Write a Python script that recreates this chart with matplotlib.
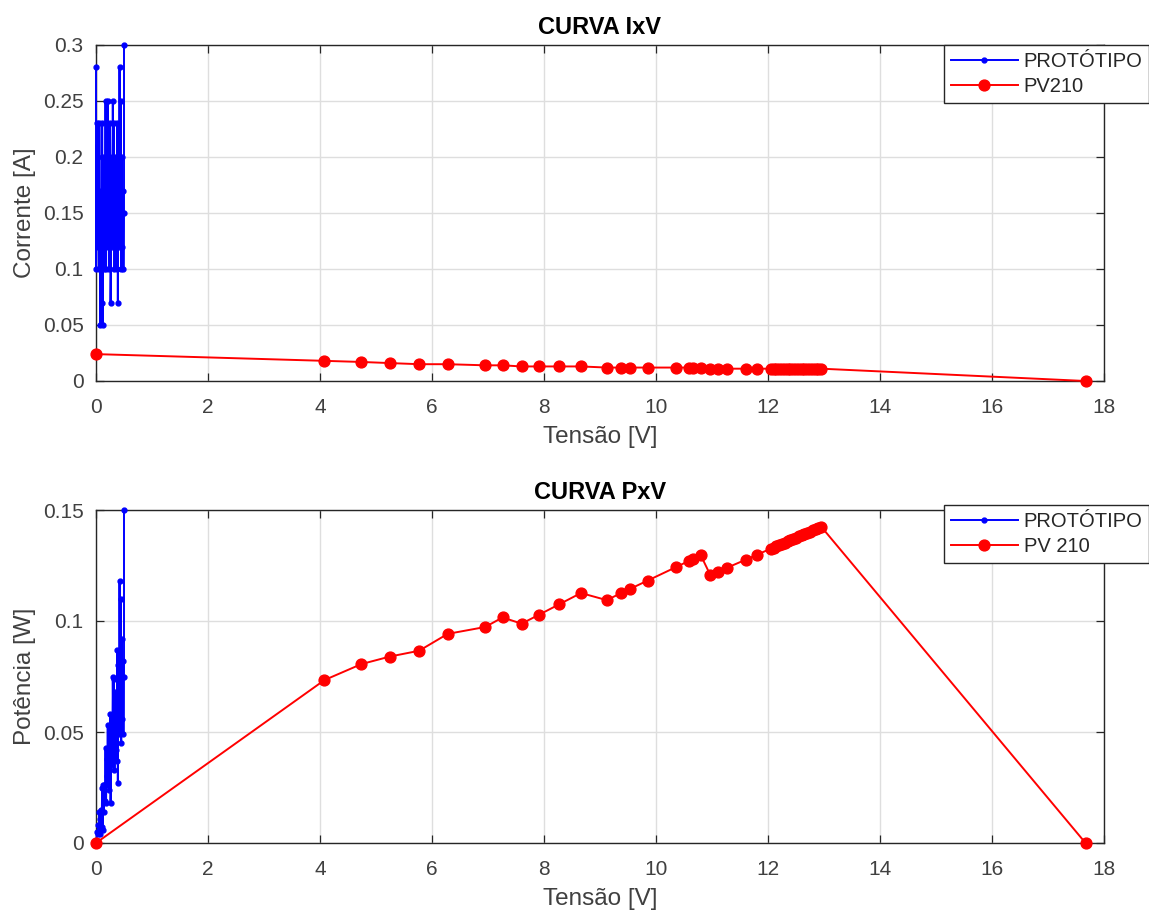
import matplotlib
matplotlib.use("Agg")
import matplotlib.pyplot as plt
from matplotlib.ticker import FuncFormatter

plt.rcParams['font.family'] = ['Liberation Sans', 'DejaVu Sans']

# ---------------- data ----------------
# PV210 panel (red)
pv_v = [0.00, 4.08, 4.74, 5.25, 5.77, 6.28, 6.95, 7.26, 7.60, 7.91, 8.27, 8.66,
        9.12, 9.38, 9.54, 9.85, 10.36, 10.59, 10.66, 10.80, 10.97, 11.11, 11.26,
        11.61, 11.80, 12.05, 12.10, 12.15, 12.20, 12.25, 12.30, 12.35, 12.40,
        12.45, 12.50, 12.55, 12.60, 12.65, 12.70, 12.75, 12.80, 12.85, 12.90,
        12.95, 17.67]
pv_i = [0.024, 0.018, 0.017, 0.016, 0.015, 0.015, 0.014, 0.014, 0.013, 0.013,
        0.013, 0.013, 0.012, 0.012, 0.012, 0.012, 0.012, 0.012, 0.012, 0.012,
        0.011, 0.011, 0.011, 0.011, 0.011, 0.011, 0.011, 0.011, 0.011, 0.011,
        0.011, 0.011, 0.011, 0.011, 0.011, 0.011, 0.011, 0.011, 0.011, 0.011,
        0.011, 0.011, 0.011, 0.011, 0.000]
pv_p = [0.0000, 0.0734, 0.0806, 0.0840, 0.0866, 0.0942, 0.0973, 0.1016, 0.0988,
        0.1028, 0.1075, 0.1126, 0.1094, 0.1126, 0.1145, 0.1182, 0.1243, 0.1271,
        0.1279, 0.1296, 0.1207, 0.1222, 0.1239, 0.1277, 0.1298, 0.1326, 0.1331,
        0.1337, 0.1342, 0.1348, 0.1353, 0.1359, 0.1364, 0.1370, 0.1375, 0.1381,
        0.1386, 0.1392, 0.1397, 0.1403, 0.1408, 0.1414, 0.1419, 0.1425, 0.0000]

# Prototype (blue)
pr_v = [0.00, 0.00, 0.02, 0.03, 0.04, 0.05, 0.06, 0.07, 0.08, 0.09, 0.10, 0.11,
        0.12, 0.13, 0.14, 0.15, 0.16, 0.17, 0.18, 0.19, 0.20, 0.21, 0.22, 0.23,
        0.24, 0.25, 0.26, 0.26, 0.28, 0.29, 0.30, 0.31, 0.32, 0.33, 0.34, 0.35,
        0.36, 0.37, 0.38, 0.39, 0.40, 0.41, 0.42, 0.43, 0.44, 0.45, 0.46, 0.47,
        0.48, 0.49, 0.50, 0.50]
pr_i = [0.28, 0.10, 0.23, 0.12, 0.20, 0.10, 0.23, 0.15, 0.05, 0.17, 0.07, 0.23,
        0.05, 0.20, 0.10, 0.17, 0.12, 0.25, 0.10, 0.20, 0.15, 0.25, 0.12, 0.17,
        0.10, 0.23, 0.15, 0.07, 0.20, 0.12, 0.25, 0.15, 0.23, 0.10, 0.20, 0.12,
        0.17, 0.10, 0.23, 0.07, 0.20, 0.12, 0.28, 0.15, 0.25, 0.10, 0.20, 0.12,
        0.17, 0.10, 0.15, 0.30]
pr_p = [0.000, 0.000, 0.005, 0.004, 0.008, 0.005, 0.014, 0.011, 0.004, 0.015,
        0.007, 0.025, 0.006, 0.026, 0.014, 0.026, 0.019, 0.043, 0.018, 0.038,
        0.030, 0.053, 0.026, 0.039, 0.024, 0.058, 0.039, 0.018, 0.056, 0.035,
        0.075, 0.047, 0.074, 0.033, 0.068, 0.042, 0.061, 0.037, 0.087, 0.027,
        0.080, 0.049, 0.118, 0.065, 0.110, 0.045, 0.092, 0.056, 0.082, 0.049,
        0.075, 0.150]

titles = ["CURVA IxV", "CURVA PxV"]
ylabels = ["Corrente [A]", "Potência [W]"]
xlabel = "Tensão [V]"
legend_top = ["PROTÓTIPO", "PV210"]
legend_bot = ["PROTÓTIPO", "PV 210"]

# ---------------- figure ----------------
W, H = 1149, 916
fig = plt.figure(figsize=(W / 100, H / 100), dpi=100)

def fx(px):
    return px / W

def fy(py):
    return 1 - py / H

ax1 = fig.add_axes([fx(96), fy(381), fx(1104) - fx(96), fy(45) - fy(381)])
ax2 = fig.add_axes([fx(96), fy(843), fx(1104) - fx(96), fy(510) - fy(843)])

txtc = '#262626'
lblc = '#404040'

def style(ax, ymax, yticks):
    ax.set_xlim(0, 18)
    ax.set_ylim(0, ymax)
    ax.set_xticks(range(0, 19, 2))
    ax.set_yticks(yticks)
    ax.yaxis.set_major_formatter(FuncFormatter(lambda v, p: f"{v:g}"))
    ax.grid(True, color='#dedede', linewidth=1.0)
    ax.set_axisbelow(True)
    ax.tick_params(direction='in', length=6, width=0.9, colors=txtc,
                   labelcolor=lblc, labelsize=15, top=True, right=True)
    ax.tick_params(axis='x', pad=12)
    ax.tick_params(axis='y', pad=9)
    for s in ax.spines.values():
        s.set_color(txtc)
        s.set_linewidth(1.0)
    ax.set_xlabel(xlabel, fontsize=17.5, color=lblc, labelpad=7)

style(ax1, 0.3, [0, 0.05, 0.1, 0.15, 0.2, 0.25, 0.3])
style(ax2, 0.15, [0, 0.05, 0.1, 0.15])

l1, = ax1.plot(pr_v, pr_i, color='blue', lw=1.4, marker='.', ms=7, zorder=3)
l2, = ax1.plot(pv_v, pv_i, color='red', lw=1.4, marker='o', ms=7.8, zorder=3)
m1, = ax2.plot(pr_v, pr_p, color='blue', lw=1.4, marker='.', ms=7, zorder=3)
m2, = ax2.plot(pv_v, pv_p, color='red', lw=1.4, marker='o', ms=7.8, zorder=3)

for a in (ax1, ax2):
    for ln in a.lines:
        ln.set_clip_on(False)

ax1.set_ylabel(ylabels[0], fontsize=17.5, color=lblc, labelpad=5)
ax2.set_ylabel(ylabels[1], fontsize=17.5, color=lblc, labelpad=5)
ax1.set_title(titles[0], fontsize=17, fontweight='bold', color='black', pad=8)
ax2.set_title(titles[1], fontsize=17, fontweight='bold', color='black', pad=8)

def add_legend(ax, labels, top_px, lines):
    lg = ax.legend(lines, labels, loc='upper left',
                   bbox_to_anchor=(fx(944), fy(top_px)),
                   bbox_transform=fig.transFigure, borderaxespad=0,
                   fontsize=14.5, frameon=True, fancybox=False,
                   edgecolor=txtc, framealpha=1, handlelength=3.3,
                   handletextpad=0.3, borderpad=0.35, labelspacing=0.3)
    lg.get_frame().set_linewidth(1.0)
    for t in lg.get_texts():
        t.set_color(txtc)
    return lg

add_legend(ax1, legend_top, 45, [l1, l2])
add_legend(ax2, legend_bot, 505, [m1, m2])

fig.savefig("out.png", dpi=100)
